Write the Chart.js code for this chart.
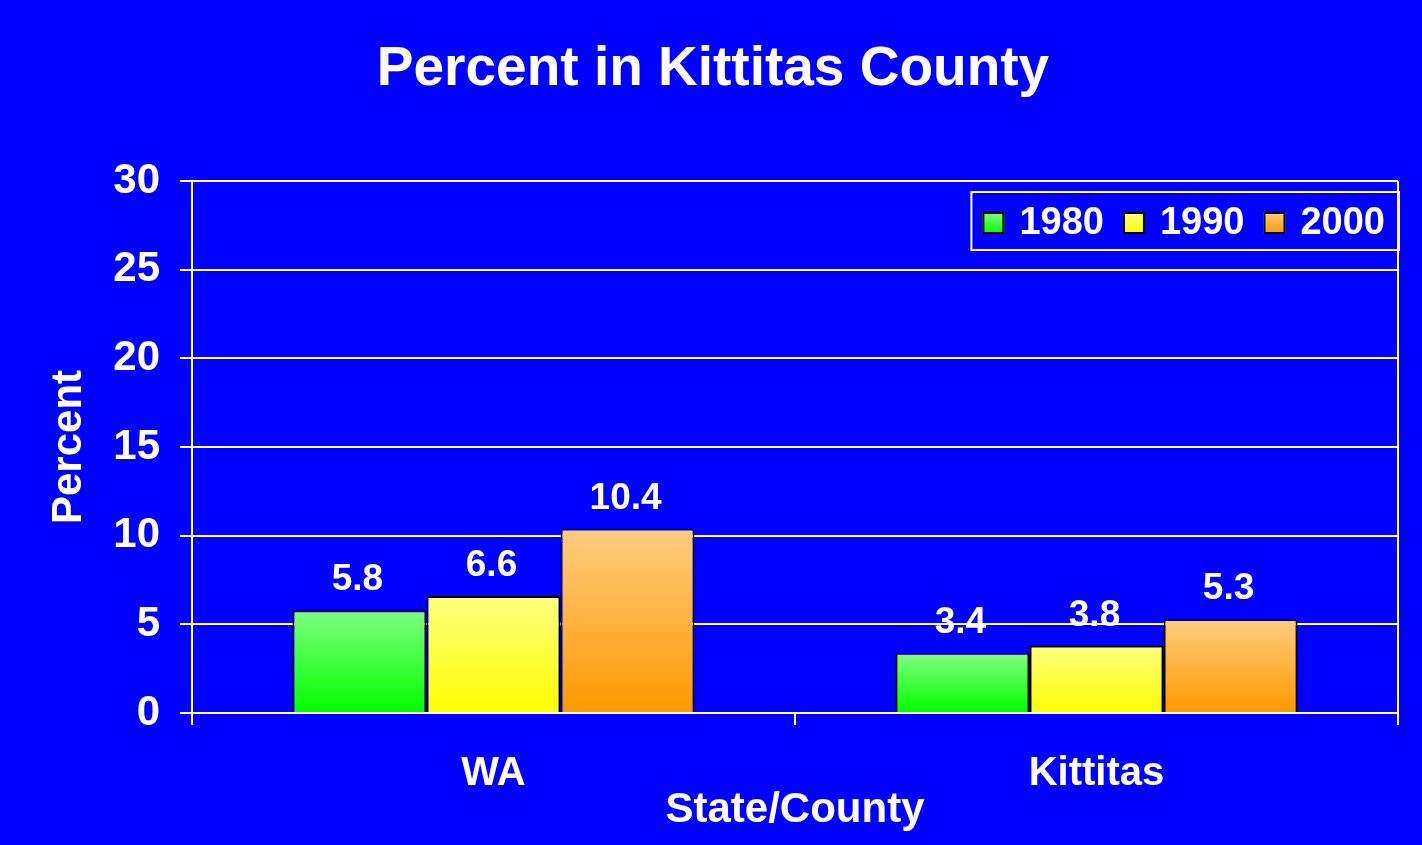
<!DOCTYPE html>
<html>
<head>
<meta charset="utf-8">
<title>Percent in Kittitas County</title>
<script src="https://cdn.jsdelivr.net/npm/chart.js@4/dist/chart.umd.min.js"></script>
<style>
  html, body { margin: 0; padding: 0; background: #0000ff; overflow: hidden; }
  canvas { display: block; }
</style>
</head>
<body>
<canvas id="chart" width="1422" height="845"></canvas>
<script>
const categories = ['WA', 'Kittitas'];
const years = ['1980', '1990', '2000'];
const values1980 = [5.8, 3.4];
const values1990 = [6.6, 3.8];
const values2000 = [10.4, 5.3];
const yMin = 0;
const yMax = 30;
const yStep = 5;

const FONT = "'Liberation Sans', Arial, Helvetica, sans-serif";
const topColors = ['#80ff80', '#ffff80', '#ffcc80'];
const bottomColors = ['#00ff00', '#ffff00', '#ff9900'];

function barFill(i) {
  return (c) => {
    const chart = c.chart;
    const y = chart.scales.y;
    if (!chart.chartArea || !y || c.raw == null) return bottomColors[i];
    const y0 = y.getPixelForValue(c.raw);
    const y1 = y.getPixelForValue(0);
    if (!isFinite(y0) || !isFinite(y1) || y0 === y1) return bottomColors[i];
    const g = chart.ctx.createLinearGradient(0, y0, 0, y1);
    g.addColorStop(0, topColors[i]);
    g.addColorStop(1, bottomColors[i]);
    return g;
  };
}

const series = [values1980, values1990, values2000];

// blue page behind everything
const background = {
  id: 'background',
  beforeDraw(chart) {
    const ctx = chart.ctx;
    ctx.save();
    ctx.fillStyle = '#0000ff';
    ctx.fillRect(0, 0, chart.width, chart.height);
    ctx.restore();
  }
};

// value labels above bars + boxed legend in the top right
const labelsAndLegend = {
  id: 'labelsAndLegend',
  afterDatasetsDraw(chart) {
    const ctx = chart.ctx;
    ctx.save();
    ctx.fillStyle = '#ffffff';
    ctx.font = 'bold 37px ' + FONT;
    ctx.textAlign = 'center';
    ctx.textBaseline = 'alphabetic';
    chart.data.datasets.forEach((ds, di) => {
      chart.getDatasetMeta(di).data.forEach((bar, i) => {
        ctx.fillText(String(ds.data[i]), bar.x - 2, bar.y - 20);
      });
    });

    // legend
    const area = chart.chartArea;
    ctx.font = 'bold 38px ' + FONT;
    const widths = chart.data.datasets.map(ds => ctx.measureText(ds.label).width);
    const boxW = 11 + widths.reduce((s, w) => s + 37 + w + 19, 0) - 19 + 14;
    const boxH = 58;
    const right = area.right + 1;
    const left = right - boxW;
    const top = area.top + 11;
    ctx.strokeStyle = '#ffffff';
    ctx.lineWidth = 2;
    ctx.strokeRect(left, top, boxW, boxH);

    let x = left + 11;
    const cy = top + boxH / 2 + 2;
    ctx.textAlign = 'left';
    ctx.textBaseline = 'middle';
    chart.data.datasets.forEach((ds, di) => {
      const g = ctx.createLinearGradient(0, cy - 11, 0, cy + 11);
      g.addColorStop(0, topColors[di]);
      g.addColorStop(1, bottomColors[di]);
      ctx.fillStyle = g;
      ctx.fillRect(x, cy - 11, 22, 22);
      ctx.strokeStyle = '#000000';
      ctx.lineWidth = 2;
      ctx.strokeRect(x + 1, cy - 10, 20, 20);
      ctx.fillStyle = '#ffffff';
      ctx.fillText(ds.label, x + 37, cy + 1);
      x += 37 + widths[di] + 19;
    });
    ctx.restore();
  }
};

const chart = new Chart(document.getElementById('chart').getContext('2d'), {
  type: 'bar',
  data: {
    labels: categories,
    datasets: series.map((vals, i) => ({
      label: years[i],
      data: vals,
      backgroundColor: barFill(i),
      borderColor: '#000000',
      borderWidth: 2,
      borderSkipped: 'bottom',
      categoryPercentage: 0.667,
      barPercentage: 1.0
    }))
  },
  options: {
    responsive: false,
    animation: false,
    devicePixelRatio: 1,
    layout: { padding: { left: 28, right: 24, top: 0, bottom: 0 } },
    plugins: {
      legend: { display: false },
      tooltip: { enabled: false },
      title: {
        display: true,
        text: 'Percent in Kittitas County',
        color: '#ffffff',
        font: { family: FONT, size: 55, weight: 'bold' },
        padding: { top: 37, bottom: 78 }
      }
    },
    scales: {
      x: {
        afterFit(scale) { scale.height = 132; },
        grid: {
          offset: true,
          color: (c) => c.index === 1 ? 'rgba(0,0,0,0)' : '#ffffff',
          tickColor: '#ffffff',
          lineWidth: 2,
          tickLength: 12
        },
        border: { display: true, color: '#ffffff', width: 2 },
        ticks: {
          color: '#ffffff',
          padding: 25,
          font: { family: FONT, size: 40, weight: 'bold' }
        },
        title: {
          display: true,
          text: 'State/County',
          color: '#ffffff',
          font: { family: FONT, size: 42, weight: 'bold' },
          padding: { top: 0, bottom: 9 }
        }
      },
      y: {
        min: yMin,
        max: yMax,
        afterFit(scale) { scale.width = 164; },
        grid: {
          color: '#ffffff',
          lineWidth: 2,
          tickLength: 12
        },
        border: { display: true, color: '#ffffff', width: 2 },
        ticks: {
          stepSize: yStep,
          color: '#ffffff',
          padding: 20,
          font: { family: FONT, size: 42, weight: 'bold' }
        },
        title: {
          display: true,
          text: 'Percent',
          color: '#ffffff',
          font: { family: FONT, size: 42, weight: 'bold' },
          padding: { top: 16, bottom: 0 }
        }
      }
    }
  },
  plugins: [background, labelsAndLegend]
});
// second pass so the bar gradients see the finished scales
chart.update();
</script>
</body>
</html>
